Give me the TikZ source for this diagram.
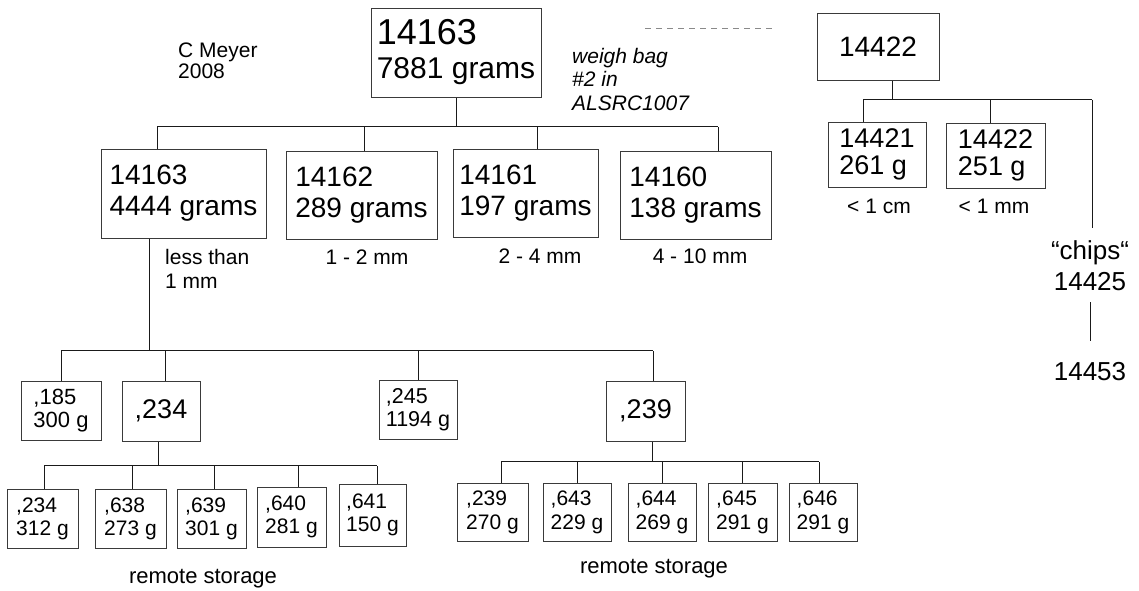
\documentclass[tikz,border=0pt]{standalone}
\usepackage{fontspec}
\setmainfont{Liberation Sans}
\usepackage{xcolor}
\usepackage{tikz}
\definecolor{lineink}{HTML}{1A1A1A}
\definecolor{boxink}{HTML}{3A3A3A}
\definecolor{dashgray}{HTML}{8A8A8A}
\newcommand{\sizeto}[2]{\fontsize{#1}{#2}\selectfont}

\begin{document}
\begin{tikzpicture}[x=1pt,y=-1pt,
  bagbox/.style 2 args={draw=boxink,line width=1pt,align=left,inner sep=0pt,
    minimum width=#1,minimum height=#2},
  tree/.style={draw=lineink,line width=1pt},
  lbl/.style={inner sep=0pt,font=\sizeto{21}{24}}
]
  \path[use as bounding box,fill=white] (0,0) rectangle (1139,590);

  % sample and its notes
  \node[lbl,anchor=base west,align=left,font=\sizeto{21}{21}] (author)
    at (178,78) {C Meyer\\2008};
  \node[bagbox={170pt}{89pt},font=\sizeto{30}{34}] (top) at (456,52.5)
    {{\sizeto{36}{36}14163}\\7881 grams};
  \node[lbl,anchor=base west,align=left,font=\sizeto{21}{23.5}\itshape] (note)
    at (572,110) {weigh bag\\\#2 in\\ALSRC1007};
  \coordinate (dashL) at (645,28);
  \coordinate (dashR) at (775,28);
  \draw[dashgray,line width=1pt,dash pattern=on 6pt off 5pt] (dashL) -- (dashR);

  % sieve fractions
  \node[bagbox={165pt}{89pt},font=\sizeto{28}{31}] (b1) at (183.5,193.5)
    {14163\\4444 grams};
  \node[bagbox={151pt}{88pt},font=\sizeto{28}{31}] (b2) at (361.5,195)
    {14162\\289 grams};
  \node[bagbox={145pt}{88pt},font=\sizeto{28}{31}] (b3) at (525.5,193)
    {14161\\197 grams};
  \node[bagbox={151pt}{88pt},font=\sizeto{28}{31}] (b4) at (695.5,195)
    {14160\\138 grams};
  \node[lbl,anchor=base west,align=left] (lt1) at (165,288) {less than\\1 mm};
  \node[lbl,anchor=base] (s12) at (367,264) {1 - 2 mm};
  \node[lbl,anchor=base] (s24) at (540,263) {2 - 4 mm};
  \node[lbl,anchor=base] (s410) at (700,263) {4 - 10 mm};

  \draw[tree] (top.south) -- ++(0,29) coordinate (bar0);
  \draw[tree] ([xshift=-26.5pt]b1.north |- bar0) -- ([xshift=22.5pt]b4.north |- bar0);
  \draw[tree] ([xshift=-26.5pt]b1.north) -- ([xshift=-26.5pt]b1.north |- bar0);
  \draw[tree] ([xshift=2.5pt]b2.north) -- ([xshift=2.5pt]b2.north |- bar0);
  \draw[tree] ([xshift=11.5pt]b3.north) -- ([xshift=11.5pt]b3.north |- bar0);
  \draw[tree] ([xshift=22.5pt]b4.north) -- ([xshift=22.5pt]b4.north |- bar0);

  % second sample
  \node[bagbox={122pt}{67pt},font=\sizeto{28}{31}] (r0) at (878,46.5) {14422};
  \node[bagbox={98pt}{65pt},font=\sizeto{27}{27}] (r1) at (877,154.5)
    {14421\\261 g};
  \node[bagbox={99pt}{65pt},font=\sizeto{27}{27}] (r2) at (995.5,155.5)
    {14422\\251 g};
  \node[lbl,anchor=base] (s1cm) at (879,213) {< 1 cm};
  \node[lbl,anchor=base] (s1mm) at (994,213) {< 1 mm};
  \node[inner sep=0pt,anchor=base,align=center,font=\sizeto{26}{31}] (chips)
    at (1090,290) {“chips“\\14425};
  \node[inner sep=0pt,anchor=base,font=\sizeto{26}{31}] (n14453)
    at (1090,380) {14453};

  \draw[tree] ([xshift=14pt]r0.south) -- ++(0,19) coordinate (bar1);
  \draw[tree] ([xshift=-14pt]r1.north |- bar1) -- ([xshift=2pt]chips.north |- bar1);
  \draw[tree] ([xshift=-14pt]r1.north) -- ([xshift=-14pt]r1.north |- bar1);
  \draw[tree] ([xshift=-5.5pt]r2.north) -- ([xshift=-5.5pt]r2.north |- bar1);
  \draw[tree,shorten >=12pt] ([xshift=2pt]chips.north |- bar1)
    -- ([xshift=2pt]chips.north);
  \draw[tree,shorten <=12pt,shorten >=21pt] (chips.south) -- (n14453.north);

  % splits of the fine fraction
  \node[bagbox={80pt}{59pt},font=\sizeto{22}{23}] (d185) at (61,410.5)
    {,185\\300 g};
  \node[bagbox={78pt}{60pt},font=\sizeto{27}{30}] (d234) at (161,411) {,234};
  \node[bagbox={78pt}{59pt},font=\sizeto{21.5}{23}] (d245) at (418,409.5)
    {,245\\1194 g};
  \node[bagbox={79pt}{60pt},font=\sizeto{27}{30}] (d239) at (645.5,411) {,239};

  \draw[tree] ([xshift=-34.5pt]b1.south) -- ++(0,112) coordinate (bar2);
  \draw[tree] (d185.north |- bar2) -- ([xshift=7.5pt]d239.north |- bar2);
  \draw[tree] (d185.north) -- (d185.north |- bar2);
  \draw[tree] ([xshift=4pt]d234.north) -- ([xshift=4pt]d234.north |- bar2);
  \draw[tree] (d245.north) -- (d245.north |- bar2);
  \draw[tree] ([xshift=7.5pt]d239.north) -- ([xshift=7.5pt]d239.north |- bar2);

  % remote storage bags
  \node[bagbox={71pt}{59pt},font=\sizeto{21}{23}] (e234) at (42.5,518.5)
    {,234\\312 g};
  \node[bagbox={71pt}{59pt},font=\sizeto{21}{23}] (e638) at (130.5,518.5)
    {,638\\273 g};
  \node[bagbox={69pt}{59pt},font=\sizeto{21}{23}] (e639) at (211.5,518.5)
    {,639\\301 g};
  \node[bagbox={69pt}{60pt},font=\sizeto{21}{23}] (e640) at (291.5,517)
    {,640\\281 g};
  \node[bagbox={67pt}{62pt},font=\sizeto{21}{23}] (e641) at (372.5,515)
    {,641\\150 g};
  \node[lbl,anchor=base,font=\sizeto{22}{24}] (store1) at (203,583)
    {remote storage};

  \draw[tree] ([xshift=-3pt]d234.south) -- ++(0,24) coordinate (bar3);
  \draw[tree] ([xshift=1.5pt]e234.north |- bar3) -- ([xshift=4.5pt]e641.north |- bar3);
  \draw[tree] ([xshift=1.5pt]e234.north) -- ([xshift=1.5pt]e234.north |- bar3);
  \draw[tree] ([xshift=1.5pt]e638.north) -- ([xshift=1.5pt]e638.north |- bar3);
  \draw[tree] ([xshift=2.5pt]e639.north) -- ([xshift=2.5pt]e639.north |- bar3);
  \draw[tree] ([xshift=6.5pt]e640.north) -- ([xshift=6.5pt]e640.north |- bar3);
  \draw[tree] ([xshift=4.5pt]e641.north) -- ([xshift=4.5pt]e641.north |- bar3);

  \node[bagbox={71pt}{58pt},font=\sizeto{21}{24}] (f239) at (492.5,512)
    {,239\\270 g};
  \node[bagbox={68pt}{58pt},font=\sizeto{21}{24}] (f643) at (577,512)
    {,643\\229 g};
  \node[bagbox={68pt}{58pt},font=\sizeto{21}{24}] (f644) at (662,512)
    {,644\\269 g};
  \node[bagbox={69pt}{58pt},font=\sizeto{21}{24}] (f645) at (742.5,512)
    {,645\\291 g};
  \node[bagbox={68pt}{58pt},font=\sizeto{21}{24}] (f646) at (823,512)
    {,646\\291 g};
  \node[lbl,anchor=base,font=\sizeto{22}{24}] (store2) at (654,573)
    {remote storage};

  \draw[tree] ([xshift=6.5pt]d239.south) -- ++(0,20) coordinate (bar4);
  \draw[tree] ([xshift=8.5pt]f239.north |- bar4) -- ([xshift=-4pt]f646.north |- bar4);
  \draw[tree] ([xshift=8.5pt]f239.north) -- ([xshift=8.5pt]f239.north |- bar4);
  \draw[tree] (f643.north) -- (f643.north |- bar4);
  \draw[tree] (f644.north) -- (f644.north |- bar4);
  \draw[tree] (f645.north) -- (f645.north |- bar4);
  \draw[tree] ([xshift=-4pt]f646.north) -- ([xshift=-4pt]f646.north |- bar4);
\end{tikzpicture}
\end{document}
